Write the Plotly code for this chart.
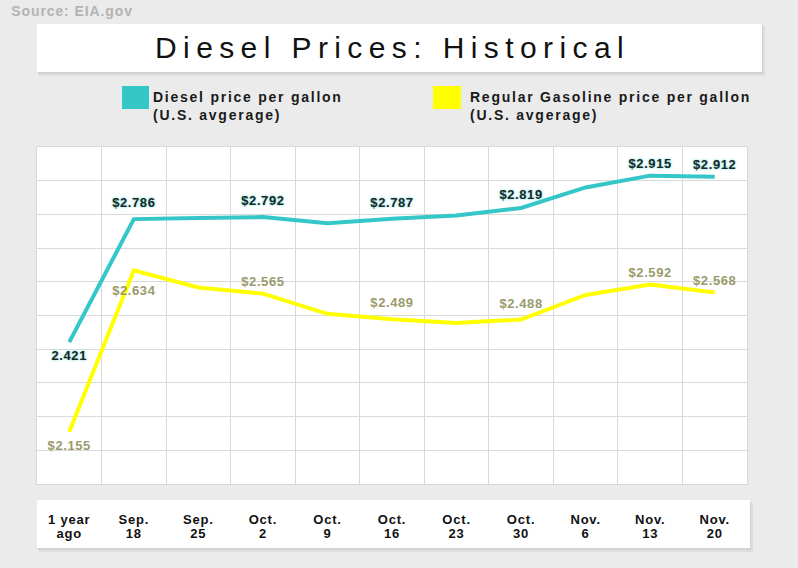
import plotly.graph_objects as go

categories = ["1 year<br>ago", "Sep.<br>18", "Sep.<br>25", "Oct.<br>2", "Oct.<br>9", "Oct.<br>16",
              "Oct.<br>23", "Oct.<br>30", "Nov.<br>6", "Nov.<br>13", "Nov.<br>20"]
diesel = [2.421, 2.786, 2.789, 2.792, 2.774, 2.787, 2.797, 2.819, 2.880, 2.915, 2.912]
gasoline = [2.155, 2.634, 2.583, 2.565, 2.505, 2.489, 2.478, 2.488, 2.561, 2.592, 2.568]
diesel_labels = ["2.421", "$2.786", "", "$2.792", "", "$2.787", "", "$2.819", "", "$2.915", "$2.912"]
gasoline_labels = ["$2.155", "$2.634", "", "$2.565", "", "$2.489", "", "$2.488", "", "$2.592", "$2.568"]
diesel_pos = ["bottom center"] + ["top center"] * 10
gasoline_pos = ["bottom center", "bottom center"] + ["top center"] * 9

TEAL = "#35c6c8"
YELLOW = "#ffff00"
FONT = "Liberation Sans, Arial, sans-serif"

W, H = 798, 568
L, R, T, B = 37, 747, 147, 484


def px(x):
    return (x - L) / (R - L)


def py(y):
    return (B - y) / (B - T)


fig = go.Figure()
fig.add_trace(go.Scatter(
    x=categories, y=diesel, mode="lines+markers+text",
    line=dict(color=TEAL, width=4),
    marker=dict(size=[12, 12, 12, 12, 12, 12, 12, 8, 12, 6, 6], opacity=0),
    text=diesel_labels, textposition=diesel_pos,
    textfont=dict(family=FONT, size=13, weight=700, color="#1b2626",
                  shadow="0px 0px 3px #8fe3e3, 0px 0px 2px #a8eeee"),
    hoverinfo="skip", showlegend=False, cliponaxis=False,
))
fig.add_trace(go.Scatter(
    x=categories, y=gasoline, mode="lines+markers+text",
    line=dict(color=YELLOW, width=4),
    marker=dict(size=[12, 22, 12, 6, 12, 12, 12, 12, 12, 6, 6], opacity=0),
    text=gasoline_labels, textposition=gasoline_pos,
    textfont=dict(family=FONT, size=13, weight=700, color="#9a9a6c"),
    hoverinfo="skip", showlegend=False, cliponaxis=False,
))

shapes = []


def box(x0, y0, x1, y1, color, layer="below"):
    shapes.append(dict(type="rect", xref="paper", yref="paper",
                       x0=px(x0), x1=px(x1), y0=py(y1), y1=py(y0),
                       fillcolor=color, line=dict(width=0), layer=layer))


# title box with soft shadow
box(39, 27, 765, 76, "#dedede")
box(38, 25, 763, 74, "#d2d2d2")
box(37, 24, 762, 72, "#ffffff")
# tick label box with soft shadow
box(39, 503, 753, 552, "#dedede")
box(38, 501, 751, 550, "#d2d2d2")
box(37, 500, 750, 548, "#ffffff")
# legend squares
box(122, 86, 149, 109, TEAL, layer="above")
box(433, 86, 461, 109, YELLOW, layer="above")

annotations = [
    dict(text="Source: EIA.gov", x=px(15.5), y=py(11), xanchor="left", yanchor="middle",
         font=dict(family=FONT, size=14, weight=700, color="#b3b3b3")),
    dict(text="Diesel Prices: Historical", x=px(392), y=py(48), xanchor="center", yanchor="middle",
         font=dict(family=FONT, size=30, color="#111111")),
    dict(text="Diesel price per gallon<br>(U.S. avgerage)", x=px(151), y=py(106),
         xanchor="left", yanchor="middle", align="left",
         font=dict(family=FONT, size=14, weight=700, color="#1a1a1a")),
    dict(text="Regular Gasoline price per gallon<br>(U.S. avgerage)", x=px(468), y=py(106),
         xanchor="left", yanchor="middle", align="left",
         font=dict(family=FONT, size=14, weight=700, color="#1a1a1a")),
]
for a in annotations:
    a.update(xref="paper", yref="paper", showarrow=False)

fig.update_layout(
    width=W, height=H,
    margin=dict(l=L, r=W - R, t=T, b=H - B, pad=0),
    paper_bgcolor="#ebebeb", plot_bgcolor="#ffffff",
    shapes=shapes, annotations=annotations,
    font=dict(family=FONT),
    xaxis=dict(type="category", tickson="boundaries", showgrid=True, gridcolor="#d9d9d9",
               gridwidth=1, showline=True, linecolor="#d9d9d9", mirror=True,
               ticks="", ticklabelstandoff=23,
               tickfont=dict(family=FONT, size=13, weight=700, color="#111111"),
               range=[-0.5, 10.5], zeroline=False, fixedrange=True),
    yaxis=dict(range=[2.0, 3.0], dtick=0.1, tick0=2.0, showgrid=True, gridcolor="#d9d9d9",
               showline=True, linecolor="#d9d9d9", mirror=True, showticklabels=False,
               ticks="", zeroline=False, fixedrange=True),
)

post = """
document.documentElement.style.margin = '0';
document.body.style.margin = '0';
document.body.style.padding = '0';
document.body.style.background = '#ebebeb';
var gd = document.getElementById('{plot_id}');
function fixSpacing(){
  gd.querySelectorAll('.annotation-text').forEach(function(t){
    if (t.textContent.indexOf('Historical') >= 0) { t.style.letterSpacing = '6.4px'; }
    else if (t.textContent.indexOf('gallon') >= 0) { t.style.letterSpacing = '1.75px'; }
    else if (t.textContent.indexOf('Source') >= 0) { t.style.letterSpacing = '0.9px'; }
  });
  gd.querySelectorAll('.xtick text').forEach(function(t){
    t.style.letterSpacing = '0.8px';
    if (!t.dataset.fixed) {
      t.querySelectorAll('tspan.line').forEach(function(s){
        var dy = parseFloat(s.getAttribute('dy') || '0');
        if (dy > 0) { s.setAttribute('dy', (dy * 1.08 / 1.3) + 'em'); }
      });
      t.dataset.fixed = '1';
    }
  });
  gd.querySelectorAll('.textpoint text').forEach(function(t){ t.style.letterSpacing = '0.6px'; });
}
fixSpacing();
gd.on('plotly_afterplot', fixSpacing);
"""

fig.write_html("out.html", post_script=post, config={"displayModeBar": False})
